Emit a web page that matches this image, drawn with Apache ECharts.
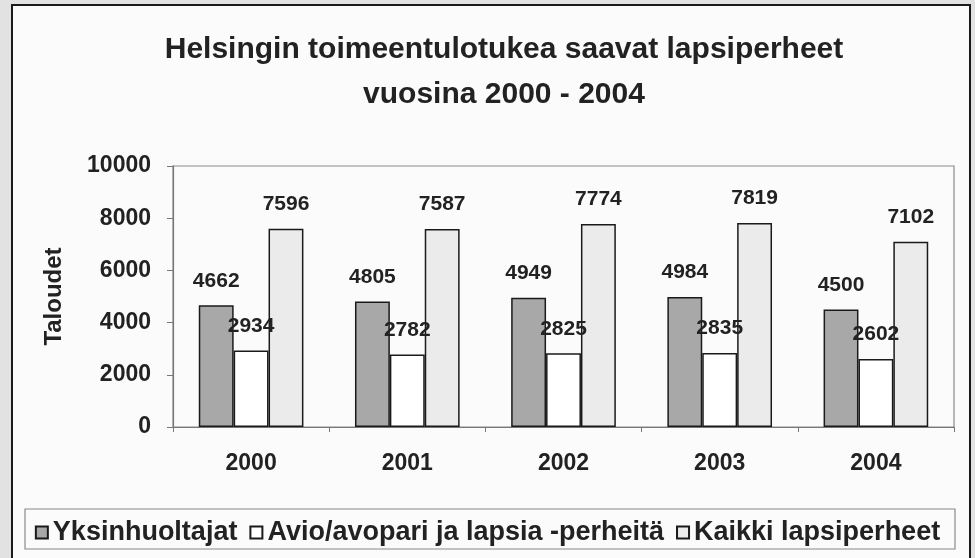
<!DOCTYPE html>
<html>
<head>
<meta charset="utf-8">
<script src="https://cdn.jsdelivr.net/npm/echarts@6/dist/echarts.min.js"></script>
<style>
html,body{margin:0;padding:0;background:#e2e2e2;}
#chart{width:975px;height:558px;}
</style>
</head>
<body>
<div id="chart"></div>
<script>
// ---- data ----
const categories = ['2000', '2001', '2002', '2003', '2004'];
const yksinhuoltajat = [4662, 4805, 4949, 4984, 4500];
const avioAvopari = [2934, 2782, 2825, 2835, 2602];
const kaikkiLapsiperheet = [7596, 7587, 7774, 7819, 7102];
const seriesNames = ['Yksinhuoltajat', 'Avio/avopari ja lapsia -perheitä', 'Kaikki lapsiperheet'];
const yMin = 0, yMax = 10000, yInterval = 2000;
const titleText = 'Helsingin toimeentulotukea saavat lapsiperheet\nvuosina 2000 - 2004';
const yAxisName = 'Taloudet';

const FONT = '"Liberation Sans", Arial, sans-serif';
const chart = echarts.init(document.getElementById('chart'), null, {renderer: 'canvas'});

const labelStyle = {
  show: true, position: 'top', distance: 14,
  fontFamily: FONT, fontWeight: 'bold', fontSize: 21, color: '#222'
};
function barSeries(name, data, color) {
  return {
    name: name, type: 'bar', data: data,
    barGap: '0%', barCategoryGap: '33%',
    itemStyle: {color: color, borderColor: '#1a1a1a', borderWidth: 1.5},
    label: labelStyle
  };
}

chart.setOption({
  animation: false,
  backgroundColor: 'transparent',
  graphic: [
    {type: 'rect', shape: {x: 12, y: 5, width: 958, height: 580},
     style: {fill: '#fbfbfb', stroke: '#1a1a1a', lineWidth: 2}, z: -10},
    {type: 'rect', shape: {x: 25, y: 509, width: 930, height: 40},
     style: {fill: 'transparent', stroke: '#8a8a8a', lineWidth: 1.2}, z: -5}
  ],
  title: {
    text: titleText, left: 499, top: 22, textAlign: 'center',
    textStyle: {fontFamily: FONT, fontWeight: 'bold', fontSize: 30, lineHeight: 45, color: '#222'}
  },
  legend: {
    data: seriesNames, left: 'center', top: 514,
    itemWidth: 12, itemHeight: 12, itemGap: 12, icon: 'rect',
    textStyle: {fontFamily: FONT, fontWeight: 'bold', fontSize: 27, color: '#222'}
  },
  grid: {left: 173, right: 21, top: 166, bottom: 131, show: true,
         borderColor: '#8a8a8a', borderWidth: 1.2, backgroundColor: 'transparent'},
  xAxis: {
    type: 'category', data: categories,
    axisLine: {show: true, lineStyle: {color: '#777', width: 1.2}},
    axisTick: {show: true, length: 5, lineStyle: {color: '#777'}},
    axisLabel: {margin: 25, fontFamily: FONT, fontWeight: 'bold', fontSize: 23, color: '#222'}
  },
  yAxis: {
    type: 'value', min: yMin, max: yMax, interval: yInterval,
    name: yAxisName, nameLocation: 'middle', nameRotate: 90, nameGap: 107,
    nameTextStyle: {fontFamily: FONT, fontWeight: 'bold', fontSize: 24, color: '#222'},
    axisLine: {show: true, lineStyle: {color: '#777', width: 1.2}},
    axisTick: {show: true, length: 6, lineStyle: {color: '#777'}},
    splitLine: {show: false},
    axisLabel: {margin: 22, fontFamily: FONT, fontWeight: 'bold', fontSize: 23, color: '#222',
                formatter: function (v) { return String(v); }}
  },
  series: [
    barSeries(seriesNames[0], yksinhuoltajat, '#a8a8a8'),
    barSeries(seriesNames[1], avioAvopari, '#ffffff'),
    barSeries(seriesNames[2], kaikkiLapsiperheet, '#ebebeb')
  ]
});
</script>
</body>
</html>
